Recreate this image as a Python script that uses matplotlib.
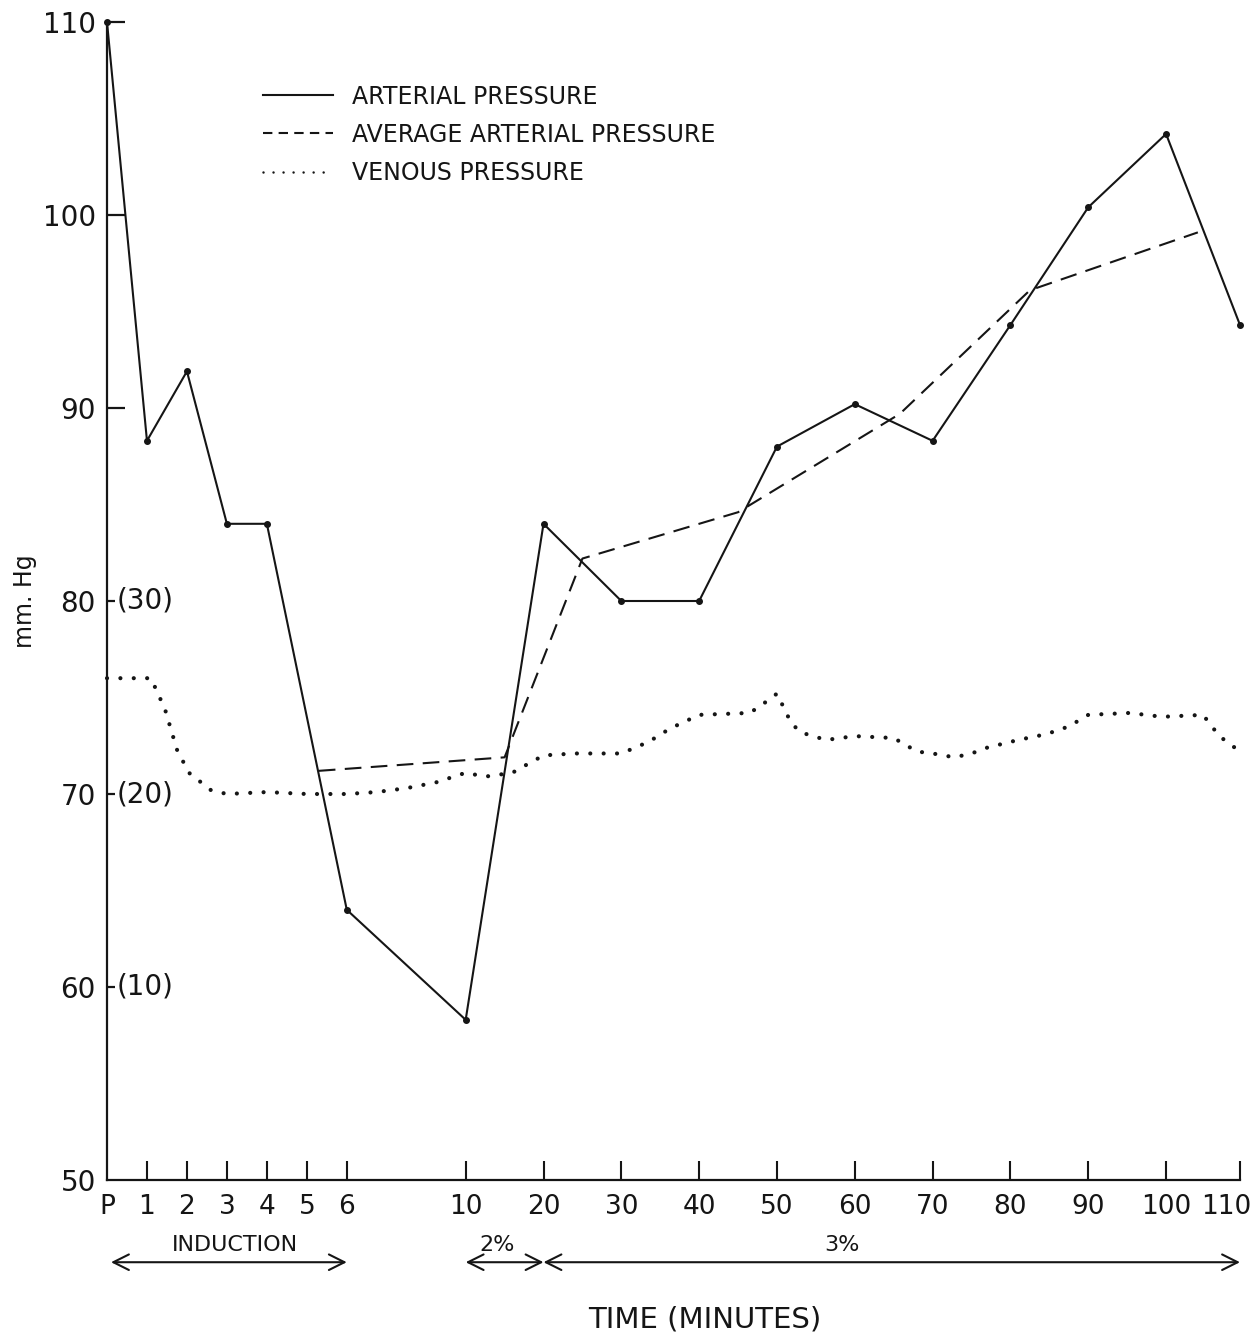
import numpy as np
import matplotlib.pyplot as plt
from matplotlib.lines import Line2D

# arterial pressure, mm Hg, read at each tick (P = pre-induction, minute 0)
art_min  = [0, 1, 2, 3, 4, 6, 10, 20, 30, 40, 50, 60, 70, 80, 90, 100, 110]
arterial = [110, 88.3, 91.9, 84, 84, 64, 58.3, 84, 80, 80, 88, 90.2, 88.3, 94.3, 100.4, 104.2, 94.3]

# average arterial pressure (dashed)
avg_min  = [5.3, 15, 25, 45, 65.8, 82.5, 104.3]
avg_pres = [71.2, 71.9, 82.2, 84.6, 89.7, 96.1, 99.1]

# venous pressure on its own scale (right-hand bracketed numbers)
ven_min = [0, 1.1, 1.45, 1.75, 2.05, 2.6, 3, 4, 5, 6, 7, 8, 9, 10, 12.5, 16, 17.3, 20,
           24, 30, 33.5, 36.3, 40, 46.5, 48, 50, 51.8, 53, 56.3, 60, 65, 68, 70, 72.8,
           75, 77, 81, 84.6, 87.5, 90, 95.3, 99.5, 105, 107.2, 110]
venous  = [26.0, 26.0, 24.4, 22.3, 21.1, 20.2, 20.0, 20.1, 20.0, 20.0, 20.1, 20.3, 20.6, 21.1,
           20.9, 21.1, 21.4, 22.0, 22.1, 22.1, 22.7, 23.4, 24.1, 24.2, 24.6, 25.2, 23.7, 23.2,
           22.8, 23.0, 22.9, 22.2, 22.1, 21.9, 22.1, 22.4, 22.8, 23.1, 23.5, 24.1, 24.2, 24.0,
           24.1, 23.0, 22.2]
VEN_ZERO = 50   # venous 0 sits at 50 mm Hg on the left scale

x_ticks  = [0, 1, 2, 3, 4, 5, 6, 10, 20, 30, 40, 50, 60, 70, 80, 90, 100, 110]
x_labels = ['P', '1', '2', '3', '4', '5', '6', '10', '20', '30', '40', '50', '60',
            '70', '80', '90', '100', '110']
y_ticks  = [50, 60, 70, 80, 90, 100, 110]
ven_ticks = [10, 20, 30]

phases = [('INDUCTION', 0.1, 6, 3.2), ('2%', 10, 20, 14), ('3%', 20, 110, 58.4)]

# broken time axis: minutes -> drawing units
SCALE_MIN = [0, 6, 10, 100, 110]
SCALE_POS = [0, 240, 359, 1060, 1134]

def fwd(m):
  return np.interp(m, SCALE_MIN, SCALE_POS)

def inv(p):
  return np.interp(p, SCALE_POS, SCALE_MIN)

plt.rcParams['font.family'] = 'DejaVu Sans'
ink = '#151515'

fig = plt.figure(figsize=(12.57, 13.38), dpi=100)
ax = fig.add_axes([107 / 1257, 158 / 1338, 1133 / 1257, 1158 / 1338])
ax.set_xscale('function', functions=(fwd, inv))

ax.plot(art_min, arterial, color=ink, lw=1.5, marker='o', ms=4, clip_on=False)
ax.plot(avg_min, avg_pres, color=ink, lw=1.5, dashes=(8, 4.5))
ax.plot(ven_min, np.array(venous) + VEN_ZERO, color=ink, lw=3.0, dashes=(0.01, 3.2),
        dash_capstyle='round', clip_on=False)

ax.set_xlim(0, 110)
ax.set_ylim(50, 110)
for s in ['top', 'right']:
  ax.spines[s].set_visible(False)
for s in ['left', 'bottom']:
  ax.spines[s].set_linewidth(1.6)
  ax.spines[s].set_color(ink)

ax.set_xticks(x_ticks)
ax.set_xticklabels(x_labels)
ax.set_yticks(y_ticks)
ax.set_yticklabels([str(v) for v in y_ticks])
ax.tick_params(axis='x', direction='in', length=14, width=1.5, pad=10, labelsize=19,
               color=ink, labelcolor=ink)
ax.tick_params(axis='y', direction='in', length=13, width=1.6, pad=8, labelsize=20,
               color=ink, labelcolor=ink)
ax.xaxis.get_major_ticks()[0].tick1line.set_visible(False)
ax.yaxis.get_major_ticks()[0].tick1line.set_visible(False)
for t, v in zip(ax.yaxis.get_major_ticks(), y_ticks):
  if v - VEN_ZERO in ven_ticks:
    t.tick1line.set_markersize(6)
# last time label sits against the right edge
last = ax.get_xticklabels()[-1]
last.set_horizontalalignment('right')
last.set_x(last.get_position()[0])
last.set_transform(last.get_transform() + plt.matplotlib.transforms.ScaledTranslation(
    8 / 72, 0, fig.dpi_scale_trans))

# venous scale in brackets next to the axis
for v in ven_ticks:
  ax.annotate('({})'.format(v), xy=(0, v + VEN_ZERO), xycoords=ax.get_yaxis_transform(),
              xytext=(7, 0), textcoords='offset points', ha='left', va='center',
              fontsize=20, color=ink)

# anaesthetic phases under the axis
for name, x0, x1, xl in phases:
  ax.annotate('', xy=(x0, -0.071), xytext=(x1, -0.071),
              xycoords=('data', 'axes fraction'), textcoords=('data', 'axes fraction'),
              arrowprops=dict(arrowstyle='<->', lw=1.5, color=ink, shrinkA=0, shrinkB=0,
                              mutation_scale=28), annotation_clip=False)
  ax.text(xl, -0.056, name, transform=ax.get_xaxis_transform(), ha='center', va='center',
          fontsize=16, color=ink)

ax.set_xlabel('TIME (MINUTES)', fontsize=21, color=ink)
ax.xaxis.set_label_coords(0.528, -0.108)
ax.set_ylabel('mm. Hg', fontsize=17, color=ink)
ax.yaxis.set_label_coords(-0.062, 0.50)

handles = [Line2D([], [], color=ink, lw=1.5),
           Line2D([], [], color=ink, lw=1.5, dashes=(4.5, 3)),
           Line2D([], [], color=ink, lw=1.8, dashes=(0.01, 4), dash_capstyle='round')]
names = ['ARTERIAL PRESSURE', 'AVERAGE ARTERIAL PRESSURE', 'VENOUS PRESSURE']
ax.legend(handles, names, loc='upper left', bbox_to_anchor=(0.138, 0.946), frameon=False,
          fontsize=17, handlelength=2.95, handletextpad=0.8, labelspacing=0.6, borderpad=0,
          borderaxespad=0, labelcolor=ink)

fig.savefig('out.png', dpi=100)
